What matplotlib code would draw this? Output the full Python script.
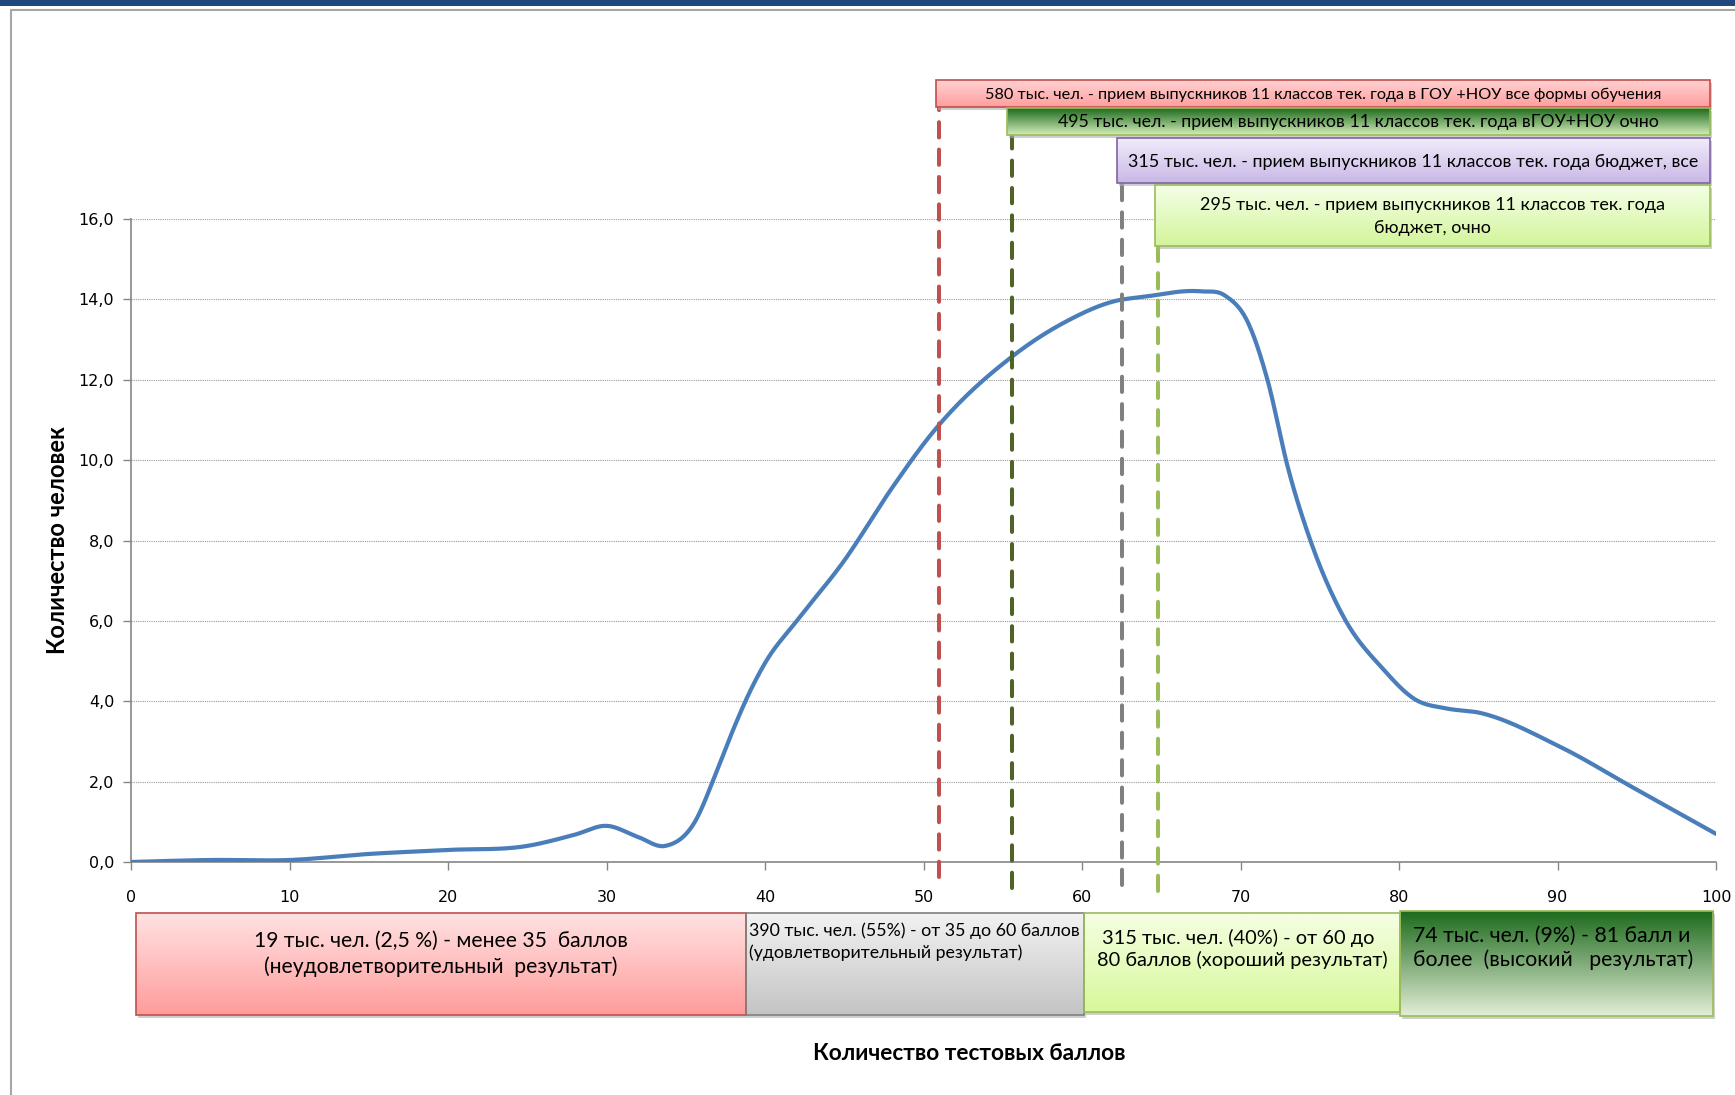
import matplotlib
matplotlib.use("Agg")
import matplotlib.pyplot as plt
import matplotlib.transforms as mtransforms
from matplotlib.patches import Rectangle
import numpy as np

# --- data ---
scores = [0, 5, 10, 15, 20, 25, 28, 30, 32, 33.7, 35.5, 37, 38, 39, 40, 42, 45,
          48, 50.5, 55.5, 59, 62, 64, 67.5, 69, 70.5, 71.7, 73, 74.5, 76.5, 79, 81,
          83, 85, 90, 95, 100]
people = [0.0, 0.05, 0.05, 0.2, 0.3, 0.4, 0.68, 0.9, 0.62, 0.4, 0.95,
          2.3, 3.3, 4.2, 4.95, 6.0, 7.5, 9.3, 10.65, 12.55, 13.45, 13.95, 14.07, 14.2, 14.1,
          13.4, 12.0, 9.8, 7.9, 6.1, 4.8, 4.05, 3.82, 3.72, 2.9, 1.8, 0.7]

cut_scores = [51.0, 55.6, 62.5, 64.8]
cut_colors = ['#C0504D', '#4F6228', '#808080', '#9BBB59']

top_labels = [
    '580 тыс. чел. - прием выпускников 11 классов тек. года в ГОУ +НОУ все формы обучения',
    '495 тыс. чел. - прием выпускников 11 классов тек. года вГОУ+НОУ очно',
    '315 тыс. чел. - прием выпускников 11 классов тек. года бюджет, все',
    '295 тыс. чел. - прием выпускников 11 классов тек. года\nбюджет, очно',
]
bottom_labels = [
    '19 тыс. чел. (2,5 %) - менее 35  баллов\n(неудовлетворительный  результат)',
    '390 тыс. чел. (55%) - от 35 до 60 баллов\n(удовлетворительный результат)',
    ' 315 тыс. чел. (40%) - от 60 до\n80 баллов (хороший результат)',
    '74 тыс. чел. (9%) - 81 балл и\nболее  (высокий   результат)',
]

yticks = [0, 2, 4, 6, 8, 10, 12, 14, 16]
xticks = [0, 10, 20, 30, 40, 50, 60, 70, 80, 90, 100]


def smooth(x, y, n=20):
    # cubic Hermite through the points, tangents from weighted neighbour slopes
    x = np.asarray(x, float)
    y = np.asarray(y, float)
    h = np.diff(x)
    d = np.diff(y) / h
    m = np.empty_like(y)
    m[0], m[-1] = d[0], d[-1]
    m[1:-1] = (d[:-1] * h[1:] + d[1:] * h[:-1]) / (h[:-1] + h[1:])
    xs, ys = [], []
    t = np.linspace(0, 1, n, endpoint=False)
    for i in range(len(x) - 1):
        h00 = 2 * t ** 3 - 3 * t ** 2 + 1
        h10 = t ** 3 - 2 * t ** 2 + t
        h01 = -2 * t ** 3 + 3 * t ** 2
        h11 = t ** 3 - t ** 2
        xs.append(x[i] + t * h[i])
        ys.append(h00 * y[i] + h10 * h[i] * m[i] + h01 * y[i + 1] + h11 * h[i] * m[i + 1])
    xs.append([x[-1]])
    ys.append([y[-1]])
    return np.concatenate(xs), np.concatenate(ys)


W, H = 1735, 1095
fig = plt.figure(figsize=(W / 100, H / 100), dpi=100)
fig.patch.set_facecolor('white')

# main chart
ax = fig.add_axes([131 / W, 1 - 862 / H, 1585 / W, 643 / H])
sx, sy = smooth(scores, people)
ax.plot(sx, sy, color='#4A7EBB', lw=3, solid_capstyle='round', zorder=3)
ax.set_xlim(0, 100)
ax.set_ylim(0, 16)
ax.set_xticks(xticks)
ax.set_yticks(yticks)
ax.set_xticklabels([str(v) for v in xticks], fontsize=11.5, family='DejaVu Sans')
ax.set_yticklabels([f'{v},0' for v in yticks], fontsize=11.5, family='DejaVu Sans')
ax.tick_params(axis='x', length=6, width=1, color='#868686', pad=14)
ax.tick_params(axis='y', length=6, width=1, color='#868686', pad=6)
ax.grid(axis='y', color='#9a9a9a', linestyle=(0, (1, 1)), lw=0.8)
ax.set_axisbelow(True)
for s in ['top', 'right']:
    ax.spines[s].set_visible(False)
for s in ['left', 'bottom']:
    ax.spines[s].set_color('#868686')
    ax.spines[s].set_linewidth(1.2)
ax.set_ylabel('Количество человек', fontsize=17, family='Lato', fontweight='bold')
ax.yaxis.set_label_coords(-0.039, 0.5)
ax.set_xlabel('Количество тестовых баллов', fontsize=16.3, family='Lato', fontweight='bold')
ax.xaxis.set_label_coords(0.529, -0.282)

# overlay in pixel coordinates for frame and boxes
ov = fig.add_axes([0, 0, 1, 1], zorder=5)
ov.set_axis_off()
ov.patch.set_visible(False)

# top bar and frame
ov.add_patch(Rectangle((0, 0), W, 6, color='#1F497D', lw=0))
ov.plot([11, 11, W + 5], [H + 5, 10, 10], color='#a6a6a6', lw=1.5)

# dashed cut lines (x in data, y in pixels)
tr = mtransforms.blended_transform_factory(ax.transData, ov.transData)
line_tops = [100, 128, 176, 240]
line_bottoms = [877, 888, 885, 891]
for xc, col, yt, yb in zip(cut_scores, cut_colors, line_tops, line_bottoms):
    ax.plot([xc, xc], [yb, yt], transform=tr, color=col, lw=2.9,
            linestyle=(0, (3.8, 3.0)), dash_capstyle='round', clip_on=False, zorder=4)


def grad_box(x0, x1, y0, y1, ctop, cbot, edge, shadow=True):
    c0 = np.array(matplotlib.colors.to_rgb(ctop))
    c1 = np.array(matplotlib.colors.to_rgb(cbot))
    t = np.linspace(0, 1, 64)[:, None, None]
    img = c0 * (1 - t) + c1 * t
    if shadow:
        ov.add_patch(Rectangle((x0 + 2, y0 + 3), x1 - x0, y1 - y0, color='#b0b0b0',
                               alpha=0.6, lw=0, zorder=1))
    ov.imshow(img, extent=(x0, x1, y1, y0), aspect='auto', interpolation='bilinear', zorder=2)
    ov.add_patch(Rectangle((x0, y0), x1 - x0, y1 - y0, fill=False, edgecolor=edge,
                           lw=1.2, zorder=3))


txt_font = 'Lato'

# top boxes
top_boxes = [(936, 1710, 80, 107), (1007, 1710, 108, 135), (1117, 1710, 138, 183), (1155, 1710, 185, 246)]
top_fill = [('#FFD2D2', '#FF9E9E', '#C0504D'),
            ('#1E6B1E', '#D3EDB8', '#9BBB59'),
            ('#F1EBFA', '#C8B8E6', '#8064A2'),
            ('#F4FFE6', '#D3F59C', '#9BBB59')]
top_sizes = [11.7, 12.8, 12.9, 13.0]
for (x0, x1, y0, y1), (ct, cb, ce), lab, fs in zip(top_boxes, top_fill, top_labels, top_sizes):
    grad_box(x0, x1, y0, y1, ct, cb, ce)
    ov.text((x0 + x1) / 2, (y0 + y1) / 2 + 1, lab, ha='center', va='center',
            fontsize=fs, family=txt_font, linespacing=1.5, zorder=4)

# bottom boxes
bot_boxes = [(136, 746, 913, 1015), (746, 1084, 913, 1015), (1084, 1400, 913, 1012), (1400, 1713, 911, 1016)]
bot_fill = [('#FFE2E2', '#FF9C9C', '#C0504D'),
            ('#F2F2F2', '#C4C4C4', '#808080'),
            ('#F4FFE3', '#D8F89A', '#9BBB59'),
            ('#1E6B1E', '#E3EDD6', '#9BBB59')]
for (x0, x1, y0, y1), (ct, cb, ce) in zip(bot_boxes, bot_fill):
    grad_box(x0, x1, y0, y1, ct, cb, ce)

ov.text(441, 954, bottom_labels[0], ha='center', va='center', fontsize=15.2,
        family=txt_font, linespacing=1.3, zorder=4)
ov.text(749, 942, bottom_labels[1], ha='left', va='center', fontsize=12.8,
        family=txt_font, linespacing=1.4, zorder=4)
ov.text(1097, 949, bottom_labels[2], ha='left', va='center', fontsize=14.4,
        family=txt_font, linespacing=1.25, zorder=4)
ov.text(1413, 948, bottom_labels[3], ha='left', va='center', fontsize=15.3,
        family=txt_font, linespacing=1.25, zorder=4)

ov.set_xlim(0, W)
ov.set_ylim(H, 0)

fig.savefig('out.png', dpi=100)
